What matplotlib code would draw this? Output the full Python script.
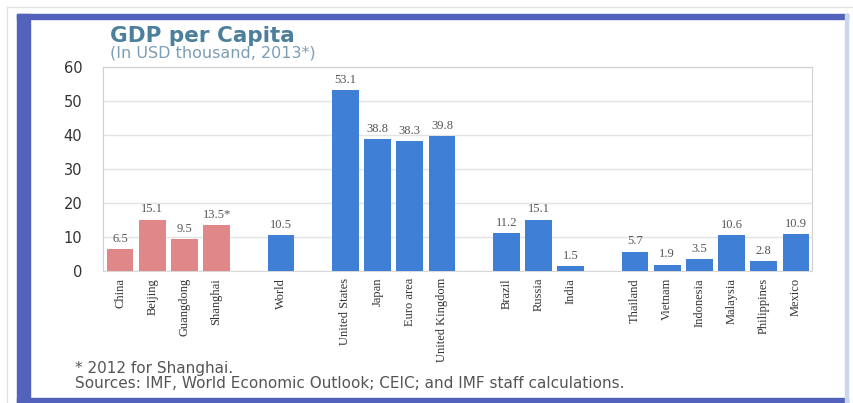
import matplotlib.pyplot as plt
from matplotlib.patches import Rectangle

# data (USD thousand, 2013; Shanghai 2012)
countries = ['China', 'Beijing', 'Guangdong', 'Shanghai',
             'World',
             'United States', 'Japan', 'Euro area', 'United Kingdom',
             'Brazil', 'Russia', 'India',
             'Thailand', 'Vietnam', 'Indonesia', 'Malaysia', 'Philippines', 'Mexico']
gdp = [6.5, 15.1, 9.5, 13.5, 10.5, 53.1, 38.8, 38.3, 39.8,
       11.2, 15.1, 1.5, 5.7, 1.9, 3.5, 10.6, 2.8, 10.9]
value_labels = ['6.5', '15.1', '9.5', '13.5*', '10.5', '53.1', '38.8', '38.3', '39.8',
                '11.2', '15.1', '1.5', '5.7', '1.9', '3.5', '10.6', '2.8', '10.9']
# slot of each bar, blank slots separate the groups
slots = [0, 1, 2, 3, 5, 7, 8, 9, 10, 12, 13, 14, 16, 17, 18, 19, 20, 21]
is_china = [True, True, True, True] + [False] * 14

pink = '#E0878A'
blue = '#3F7FD6'
colors = [pink if c else blue for c in is_china]

fig = plt.figure(figsize=(8.54, 4.03), dpi=100)

# frame around the chart
frame_blue = '#5362BA'
fig.patches.append(Rectangle((17 / 854, 0), 13 / 854, 389 / 403,
                             transform=fig.transFigure, color=frame_blue, zorder=0))
fig.patches.append(Rectangle((17 / 854, 1 - 19 / 403), 831 / 854, 5 / 403,
                             transform=fig.transFigure, color=frame_blue, zorder=0))
fig.patches.append(Rectangle((17 / 854, 0), 831 / 854, 5 / 403,
                             transform=fig.transFigure, color=frame_blue, zorder=0))
fig.patches.append(Rectangle((845 / 854, 0), 3 / 854, 389 / 403,
                             transform=fig.transFigure, color='#C9D6EE', zorder=0))
fig.add_artist(plt.Line2D([7 / 854, 854 / 854], [1 - 7 / 403, 1 - 7 / 403],
                          transform=fig.transFigure, color='#E2E2E2', lw=1))
fig.add_artist(plt.Line2D([7 / 854, 7 / 854], [0, 1 - 7 / 403],
                          transform=fig.transFigure, color='#E2E2E2', lw=1))

ax = fig.add_axes([103 / 854, 1 - 271 / 403, 709 / 854, 204 / 403])
ax.bar(slots, gdp, width=0.83, color=colors, zorder=3)

for x, v, lab in zip(slots, gdp, value_labels):
    ax.annotate(lab, (x, v), xytext=(0, 3), textcoords='offset points',
                ha='center', va='bottom', fontsize=9, color='#555555',
                family='Liberation Serif', zorder=4)

ax.set_xlim(-0.53, 21.5)
ax.set_ylim(0, 60)
ax.set_yticks(range(0, 61, 10))
ax.tick_params(axis='y', length=0, pad=15, labelsize=10.5, labelcolor='#333333')
ax.set_xticks(slots)
ax.set_xticklabels(countries, rotation=90, family='Liberation Serif',
                   fontsize=9, color='#333333')
ax.tick_params(axis='x', length=0, pad=5)
ax.grid(axis='y', color='#E3E3E3', lw=1, zorder=0)
for s in ax.spines.values():
    s.set_color('#CFCFCF')
ax.spines['bottom'].set_color('#D8D8D8')

fig.text(110 / 854, 1 - 36 / 403, 'GDP per Capita', fontsize=15.5, weight='bold',
         color='#4C7F9C', va='center')
fig.text(110 / 854, 1 - 53 / 403, '(In USD thousand, 2013*)', fontsize=11.5,
         color='#7C9DB6', va='center')

fig.text(75 / 854, 1 - 368 / 403, '* 2012 for Shanghai.', fontsize=11,
         color='#555555', va='center')
fig.text(75 / 854, 1 - 383 / 403,
         'Sources: IMF, World Economic Outlook; CEIC; and IMF staff calculations.',
         fontsize=11, color='#555555', va='center')

fig.savefig('out.png', dpi=100)
